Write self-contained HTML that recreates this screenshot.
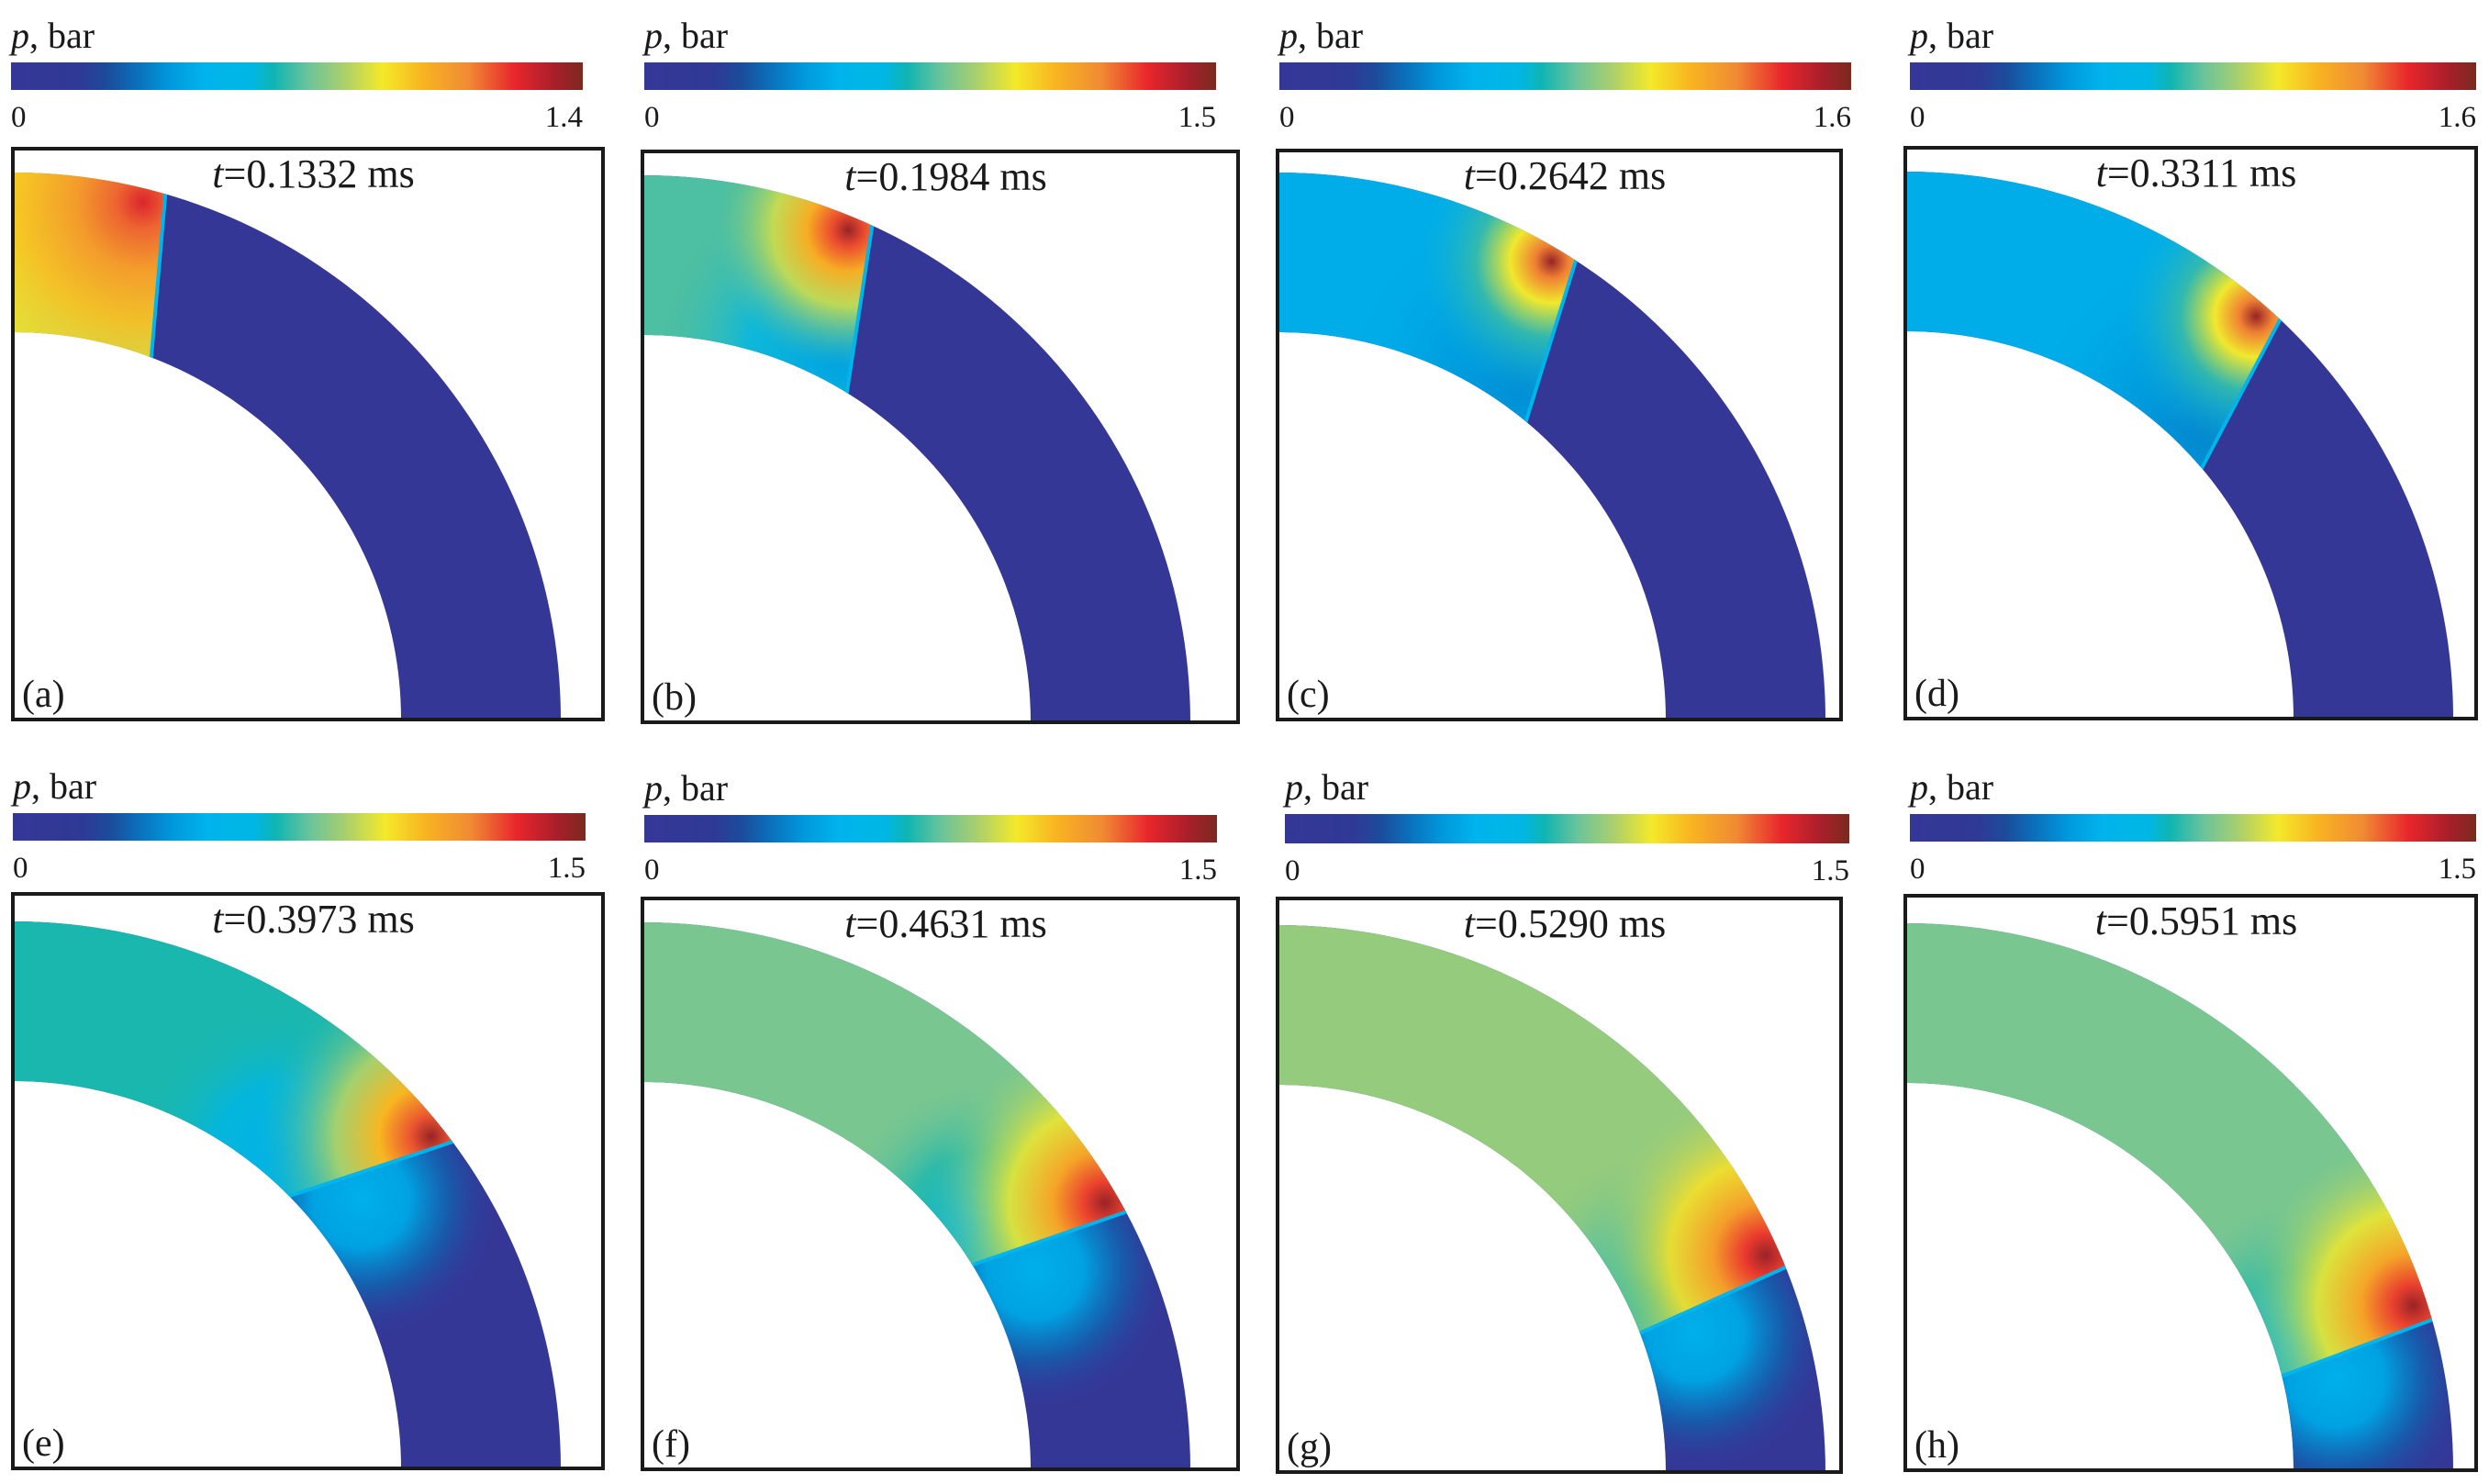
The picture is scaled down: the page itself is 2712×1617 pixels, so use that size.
<!DOCTYPE html>
<html><head><meta charset="utf-8">
<style>
html,body{margin:0;padding:0;background:#fff;}
svg{display:block;}
svg text{font-family:"Liberation Serif","Times New Roman","DejaVu Serif",serif;}
</style></head>
<body>
<svg id="fig" width="2712" height="1617" viewBox="0 0 2712 1617" xmlns="http://www.w3.org/2000/svg">
<defs id="defs"></defs>
</svg>
<script>
// ---- data ----
const panelLetters = ["a","b","c","d","e","f","g","h"];
const times = ["0.1332","0.1984","0.2642","0.3311","0.3973","0.4631","0.5290","0.5951"];
const cbarMax = [1.4,1.5,1.6,1.6,1.5,1.5,1.5,1.5];
const shockOuterDeg = [16,24.6,32.8,43,53.5,62,68,74];
const shockInnerDeg = [21,32,40,50,45,58,69,76];
const behindP = [0.9,0.75,0.52,0.52,0.7,0.8,0.84,0.8];
const peakP = [1.25,1.45,1.55,1.55,1.45,1.45,1.45,1.45];
const innerP = [0.82,0.45,0.42,0.4,0.5,0.6,0.68,0.62];
const aheadCyan = [0,0,0,0,1,1,1,1];

// ---- layout (not data) ----
const boxes = [[14,162,643,622],[700,165,649,622],[1392,164,614,620],[2076,161,622,622],
               [14,974,643,626],[700,979,649,622],[1392,979,614,625],[2076,976,622,626]];
const cbars = [[12,68,623,30],[702,68,623,30],[1394,68,623,30],[2081,68,617,30],
               [14,886,624,30],[702,888,624,30],[1400,887,615,32],[2081,887,617,30]];

const stops = [[0,"#353797"],[0.12,"#2f3996"],[0.17,"#1b4c9c"],[0.22,"#0a70bb"],[0.28,"#0099dd"],
 [0.34,"#00b4ec"],[0.42,"#00b6e4"],[0.46,"#10b5b2"],[0.52,"#6cc49a"],[0.58,"#a8cf6e"],
 [0.65,"#f4e92a"],[0.72,"#f8b421"],[0.8,"#f08a34"],[0.88,"#e8262c"],[0.95,"#a81f2b"],[1,"#7a2a1f"]];
function hex(c){return [parseInt(c.slice(1,3),16),parseInt(c.slice(3,5),16),parseInt(c.slice(5,7),16)];}
function cmap(f){f=Math.max(0,Math.min(1,f));
 for(let i=1;i<stops.length;i++){if(f<=stops[i][0]){const a=stops[i-1],b=stops[i];const t=(f-a[0])/(b[0]-a[0]);
  const A=hex(a[1]),B=hex(b[1]);return "rgb("+A.map((v,k)=>Math.round(v+(B[k]-v)*t)).join(",")+")";}}
 return stops[stops.length-1][1];}

const NS="http://www.w3.org/2000/svg";
const svg=document.getElementById("fig"), defs=document.getElementById("defs");
function el(tag,attrs,parent){const e=document.createElementNS(NS,tag);for(const k in attrs)e.setAttribute(k,attrs[k]);(parent||svg).appendChild(e);return e;}

const cg=el("linearGradient",{id:"cbgrad",x1:"0",x2:"1",y1:"0",y2:"0"},defs);
stops.forEach(s=>el("stop",{offset:s[0],"stop-color":s[1]},cg));

function radGrad(id,cx,cy,r,colors){
 const g=el("radialGradient",{id:id,gradientUnits:"userSpaceOnUse",cx:cx,cy:cy,r:r},defs);
 colors.forEach(c=>el("stop",{offset:c[0],"stop-color":c[1],"stop-opacity":c[2]},g));
}

panelLetters.forEach((L,i)=>{
 const g=el("g",{});
 
 
 const [bx,by,bw,bh]=boxes[i]; const [qx,qy,qw,qh]=cbars[i];
 const max=cbarMax[i];
 const lab=el("text",{x:qx,y:qy-16,"font-size":40,fill:"#1a1a1a"},g);
 
 
 const ts=el("tspan",{"font-style":"italic"},lab); ts.textContent="p";
 const ts2=el("tspan",{},lab); ts2.textContent=", bar";
 const cb=el("rect",{x:qx,y:qy,width:qw,height:qh,fill:"url(#cbgrad)"},g);
 
 
 const t0=el("text",{x:qx,y:qy+qh+40,"font-size":33,fill:"#1a1a1a"},g); t0.textContent="0";
 
 
 const t1=el("text",{x:qx+qw,y:qy+qh+40,"font-size":33,"text-anchor":"end",fill:"#1a1a1a"},g); t1.textContent=max.toFixed(1);
 
 

 const cx=bx+1, cy=by+bh, R=596, r=422;
 const P=(deg,rho)=>{const a=deg*Math.PI/180;return [cx+rho*Math.sin(a),cy-rho*Math.cos(a)];};
 const clipId="clip"+L;
 const cp=el("clipPath",{id:clipId},defs);
 el("path",{d:`M${cx},${cy-R} A${R},${R} 0 0 1 ${cx+R},${cy} L${cx+r},${cy} A${r},${r} 0 0 0 ${cx},${cy-r} Z`},cp);
 const clipB="clipb"+L;
 const cpb=el("clipPath",{id:clipB},defs);
 const oIn=P(shockInnerDeg[i],r-5), oOut=P(shockOuterDeg[i],R+5);
 const ext=P(shockOuterDeg[i],R*1.4);
 const behindPts=[[cx,cy],[oIn[0],oIn[1]],[oOut[0],oOut[1]],ext,[cx-5,cy-R*1.4]];
 el("polygon",{points:behindPts.map(p=>p.join(",")).join(" ")},cpb);

 const field=el("g",{"clip-path":`url(#${clipId})`},g);
 
 
 el("rect",{x:bx,y:by,width:bw,height:bh,fill:cmap(0)},field);
 if(aheadCyan[i]){
  const m=P((shockInnerDeg[i]+shockOuterDeg[i])/2+3,(r+R)/2-30);
  radGrad("ah"+L,m[0],m[1],150,[[0,cmap(0.33),1],[0.35,cmap(0.3),1],[0.65,cmap(0.2),0.8],[1,cmap(0.1),0]]);
  el("circle",{cx:m[0],cy:m[1],r:150,fill:`url(#ah${L})`},field);
 }
 const beh=el("g",{"clip-path":`url(#${clipB})`},field);
 const bf=behindP[i]/max;
 el("rect",{x:bx,y:by,width:bw,height:bh,fill:cmap(bf)},beh);
 const ip=P(shockInnerDeg[i]-4,r+30);
 const inR=i<4?200:160;
 radGrad("in"+L,ip[0],ip[1],inR,[[0,cmap(innerP[i]/max),1],[0.5,cmap((innerP[i]+behindP[i])/2/max),0.8],[1,cmap(bf),0]]);
 el("circle",{cx:ip[0],cy:ip[1],r:inR,fill:`url(#in${L})`},beh);
 const hp=P(shockOuterDeg[i]-2,R-15);
 const hR=i===0?240:(i<4?150:190);
 const pk=peakP[i], bp=behindP[i];
 const lerp=t=>cmap((pk+(bp-pk)*t)/max);
 radGrad("hot"+L,hp[0],hp[1],hR,[[0,lerp(0),1],[0.12,lerp(0.25),1],[0.3,lerp(0.5),1],[0.55,lerp(0.75),0.9],[1,lerp(1),0]]);
 el("circle",{cx:hp[0],cy:hp[1],r:hR,fill:`url(#hot${L})`},beh);
 const sl=el("line",{x1:oIn[0],y1:oIn[1],x2:oOut[0],y2:oOut[1],stroke:cmap(0.34),"stroke-width":4},field);
 
 

 const box=el("rect",{x:bx,y:by,width:bw,height:bh,fill:"none",stroke:"#1a1a1a","stroke-width":4},g);
 
 
 const tt=el("text",{x:bx+bw/2+6,y:by+42,"font-size":44,"text-anchor":"middle",fill:"#1a1a1a"},g);
 
 
 const ti=el("tspan",{"font-style":"italic"},tt); ti.textContent="t";
 const tr=el("tspan",{},tt); tr.textContent="="+times[i]+" ms";
 const pl=el("text",{x:bx+10,y:by+bh-14,"font-size":42,fill:"#1a1a1a"},g); pl.textContent="("+L+")";
 
 
});
</script>
</body></html>
